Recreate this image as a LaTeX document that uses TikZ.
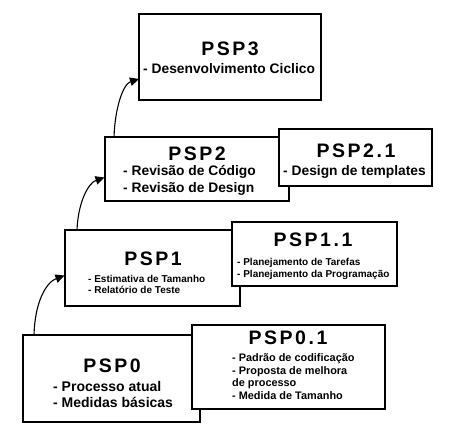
\documentclass[tikz,border=0pt]{standalone}
\usepackage{fontspec}
\setmainfont{Liberation Sans}
\newfontfamily\titlefont[LetterSpace=13]{Liberation Sans}
\usetikzlibrary{arrows.meta}
\begin{document}
\begin{tikzpicture}[x=1pt,y=-1pt,
  box/.style={draw=black, line width=1.1pt, fill=white, inner sep=0pt},
  ttl/.style={anchor=base, inner sep=0pt, font=\titlefont\bfseries\fontsize{19.5}{20}\selectfont},
  lnA/.style={anchor=base west, inner sep=0pt, font=\bfseries\fontsize{14}{16}\selectfont},
  lnB/.style={anchor=base west, inner sep=0pt, font=\bfseries\fontsize{10.9}{12}\selectfont},
  lnC/.style={anchor=base west, inner sep=0pt, font=\bfseries\fontsize{10}{12}\selectfont},
  lnD/.style={anchor=base west, inner sep=0pt, font=\bfseries\fontsize{13.8}{16}\selectfont},
  arr/.style={line width=1.1pt, -{Triangle[length=9pt,width=8.5pt]}}]
\useasboundingbox (0,0) rectangle (473,444);
% boxes
\node[box, minimum width=177pt, minimum height=87pt] (p0) at (111.5,378.5) {};
\node[box, minimum width=193pt, minimum height=84pt] (p01) at (288.5,367) {};
\node[box, minimum width=175pt, minimum height=76pt] (p1) at (152.5,268) {};
\node[box, minimum width=165pt, minimum height=64pt] (p11) at (314.5,254) {};
\node[box, minimum width=184pt, minimum height=64pt] (p2) at (197,169) {};
\node[box, minimum width=153pt, minimum height=57pt] (p21) at (355.5,157.5) {};
\node[box, minimum width=182pt, minimum height=86pt] (p3) at (230,57) {};
% PSP0
\node[ttl] (t0) at (112,372.3) {PSP0};
\node[lnA] (l0a) at (53,391) {- Processo atual};
\node[lnA] (l0b) at (53,407) {- Medidas básicas};
% PSP0.1
\node[ttl] (t01) at (288,344.3) {PSP0.1};
\node[lnB] (l01a) at (232,361.5) {- Padrão de codificação};
\node[lnB] (l01b) at (232,374.2) {- Proposta de melhora};
\node[lnB] (l01c) at (232,386.9) {de processo};
\node[lnB] (l01d) at (232,399.6) {- Medida de Tamanho};
% PSP1
\node[ttl] (t1) at (153,265) {PSP1};
\node[lnC] (l1a) at (88,282.5) {- Estimativa de Tamanho};
\node[lnC] (l1b) at (88,293.5) {- Relatório de Teste};
% PSP1.1
\node[ttl] (t11) at (313,246.7) {PSP1.1};
\node[lnC] (l11a) at (237,265.7) {- Planejamento de Tarefas};
\node[lnC] (l11b) at (237,277.2) {- Planejamento da Programação};
% PSP2
\node[ttl] (t2) at (197,160) {PSP2};
\node[lnD] (l2a) at (123,175.7) {- Revisão de Código};
\node[lnD] (l2b) at (123,192.3) {- Revisão de Design};
% PSP2.1
\node[ttl] (t21) at (356,157.7) {PSP2.1};
\node[lnD] (l21a) at (283,175.3) {- Design de templates};
% PSP3
\node[ttl] (t3) at (230,55.5) {PSP3};
\node[lnD] (l3a) at (143,73.3) {- Desenvolvimento Ciclico};
% arrows
\coordinate (s1) at (34,335);
\coordinate (e1) at (64.5,275.5);
\coordinate (s2) at (77,230);
\coordinate (e2) at (104.5,177.5);
\coordinate (s3) at (114,137);
\coordinate (e3) at (139,79);
\draw[arr] (s1) .. controls (35,300) and (47,282) .. (e1);
\draw[arr] (s2) .. controls (78,203) and (88,183) .. (e2);
\draw[arr] (s3) .. controls (115,108) and (123,84) .. (e3);
\end{tikzpicture}
\end{document}
